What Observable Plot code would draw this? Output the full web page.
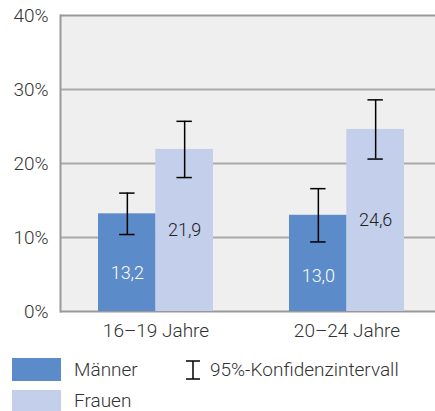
<!DOCTYPE html>
<html>
<head>
<meta charset="utf-8">
<script src="https://cdn.jsdelivr.net/npm/d3@7"></script>
<script src="https://cdn.jsdelivr.net/npm/@observablehq/plot@0.6"></script>
<style>
  body { margin: 0; background: #fff; font-family: Roboto, "Noto Sans", sans-serif; }
  #wrap { position: relative; width: 435px; height: 411px; overflow: hidden; }
  #legend { position: absolute; left: 0; top: 345px; width: 435px; height: 66px; font-size: 19px; font-weight: 300; color: #333; }
  .sw { position: absolute; width: 49px; height: 23px; }
  .lt { position: absolute; line-height: 23px; }
</style>
</head>
<body>
<div id="wrap">
  <div id="chart"></div>
  <div id="legend">
    <div class="sw" style="left:12px;top:13px;background:#5b8bc8"></div>
    <div class="lt" style="left:74px;top:13px">Männer</div>
    <div class="sw" style="left:12px;top:45px;background:#c4cfec"></div>
    <div class="lt" style="left:74px;top:45px;line-height:21px">Frauen</div>
    <svg style="position:absolute;left:184px;top:14px" width="18" height="22">
      <line x1="9" y1="2" x2="9" y2="20" stroke="#000" stroke-width="1.5"/>
      <line x1="2" y1="2" x2="16" y2="2" stroke="#000" stroke-width="1.5"/>
      <line x1="2" y1="20" x2="16" y2="20" stroke="#000" stroke-width="1.5"/>
    </svg>
    <div class="lt" style="left:210px;top:13px">95%-Konfidenzintervall</div>
  </div>
</div>
<script>
const ages = ["16–19 Jahre", "20–24 Jahre"];
const maenner = [13.2, 13.0];
const maennerLow = [10.4, 9.4];
const maennerHigh = [16.0, 16.6];
const frauen = [21.9, 24.6];
const frauenLow = [18.1, 20.6];
const frauenHigh = [25.7, 28.6];
const yTicks = [0, 10, 20, 30, 40];
const fmt = v => v.toFixed(1).replace(".", ",");

const M = ages.map((a, i) => ({age: a, value: maenner[i], low: maennerLow[i], high: maennerHigh[i]}));
const F = ages.map((a, i) => ({age: a, value: frauen[i], low: frauenLow[i], high: frauenHigh[i]}));

const range = [60, 442];
const step = (range[1] - range[0]) / (ages.length - 0.4 + 2 * 0.2);
const bw = step * 0.6;
const cap = 7.5;

const errMarks = (rows, dx) => [
  Plot.ruleX(rows, {x: "age", y1: "low", y2: "high", dx, stroke: "#000", strokeWidth: 1.5}),
  Plot.tickY(rows, {x: "age", y: "low", dx, insetLeft: bw / 2 - cap, insetRight: bw / 2 - cap, stroke: "#000", strokeWidth: 1.5}),
  Plot.tickY(rows, {x: "age", y: "high", dx, insetLeft: bw / 2 - cap, insetRight: bw / 2 - cap, stroke: "#000", strokeWidth: 1.5})
];

const chart = Plot.plot({
  width: 435,
  height: 345,
  marginLeft: 60,
  marginRight: 0,
  marginTop: 15,
  marginBottom: 34,
  style: {fontFamily: "Roboto, 'Noto Sans', sans-serif", fontSize: "19px", fontWeight: 300, color: "#333", background: "#fff"},
  x: {domain: ages, range, paddingInner: 0.4, paddingOuter: 0.2, tickSize: 0, tickPadding: 12, label: null},
  y: {domain: [0, 40], ticks: yTicks, tickFormat: d => d + "%", tickSize: 0, tickPadding: 12, label: null},
  marks: [
    Plot.frame({fill: "#efefef", stroke: "none"}),
    Plot.ruleY(yTicks.slice(1, -1), {stroke: "#aaa", strokeWidth: 2}),
    Plot.ruleY([0, 40], {stroke: "#999", strokeWidth: 2}),
    Plot.barY(M, {x: "age", y: "value", fill: "#5b8bc8", insetRight: bw / 2}),
    Plot.barY(F, {x: "age", y: "value", fill: "#c4cfec", insetLeft: bw / 2}),
    ...errMarks(M, -bw / 4),
    ...errMarks(F, bw / 4),
    Plot.text(M, {x: "age", y: d => d.low / 2, text: d => fmt(d.value), dx: -bw / 4, fill: "#fff", fontSize: 18, fontWeight: 300}),
    Plot.text(F, {x: "age", y: d => d.value / 2, text: d => fmt(d.value), dx: bw / 4, fill: "#222", fontSize: 18, fontWeight: 300}),
    Plot.frame({anchor: "left", stroke: "#999", strokeWidth: 2})
  ]
});
document.getElementById("chart").appendChild(chart);
</script>
</body>
</html>
